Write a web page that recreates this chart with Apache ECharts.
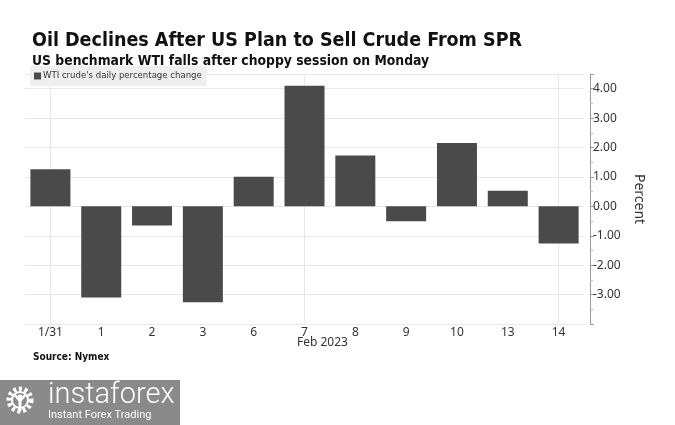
<!DOCTYPE html>
<html>
<head>
<meta charset="utf-8">
<script src="https://cdn.jsdelivr.net/npm/echarts@6/dist/echarts.min.js"></script>
<style>html,body{margin:0;padding:0;background:#fff}#c{width:675px;height:425px}</style>
</head>
<body>
<div id="c"></div>
<script>
var categories = ['1/31', '1', '2', '3', '6', '7', '8', '9', '10', '13', '14'];
var wtiChange = [1.26, -3.10, -0.65, -3.26, 1.01, 4.10, 1.73, -0.51, 2.15, 0.53, -1.26];
var gridDates = ['1/31', '7', '14'];
var titleText = 'Oil Declines After US Plan to Sell Crude From SPR';
var subtitleText = 'US benchmark WTI falls after choppy session on Monday';
var seriesName = "WTI crude's daily percentage change";

var chart = echarts.init(document.getElementById('c'), null, {renderer: 'canvas'});
chart.setOption({
  animation: false,
  backgroundColor: '#ffffff',
  title: [
    {text: titleText, left: 27, top: 26,
     textStyle: {fontFamily: 'DejaVu Sans Condensed', fontWeight: 'bold', fontSize: 19.5, color: '#111'}},
    {text: subtitleText, left: 27, top: 49,
     textStyle: {fontFamily: 'DejaVu Sans Condensed', fontWeight: 'bold', fontSize: 13.8, color: '#111'}}
  ],
  legend: {
    left: 30, top: 66, padding: [5, 5, 5, 4], backgroundColor: '#efefef',
    icon: 'rect', itemWidth: 7, itemHeight: 7, itemGap: 4,
    textStyle: {fontFamily: 'DejaVu Sans Condensed', fontSize: 9.5, color: '#333', padding: [0, 0, 0, -3]},
    data: [seriesName]
  },
  grid: {left: 25, right: 91, top: 74, bottom: 101},
  xAxis: {
    type: 'category', data: categories,
    axisLine: {show: false}, axisTick: {show: false},
    axisLabel: {fontFamily: 'Noto Sans', fontSize: 12, color: '#333', margin: 3},
    splitLine: {show: false}
  },
  yAxis: {
    type: 'value', position: 'right', offset: 6,
    min: -4, max: 4.5, interval: 1,
    name: 'Percent', nameLocation: 'middle', nameRotate: -90, nameGap: 38,
    nameTextStyle: {fontFamily: 'Noto Sans', fontSize: 14, color: '#333'},
    axisLine: {show: true, lineStyle: {color: '#999', width: 1}},
    axisTick: {show: true, inside: false, length: 4, lineStyle: {color: '#999'}},
    minorTick: {show: true, splitNumber: 2, length: 3, lineStyle: {color: '#bbb'}},
    axisLabel: {fontFamily: 'Noto Sans', fontSize: 12, color: '#333', margin: 3,
      showMinLabel: false, showMaxLabel: false,
      formatter: function (v) { return v.toFixed(2); }},
    splitLine: {show: true, lineStyle: {color: '#e8e8e8', width: 1}}
  },
  series: [{
    name: seriesName, type: 'bar', data: wtiChange, barWidth: 40,
    itemStyle: {color: '#4a4a4a'},
    markLine: {
      silent: true, symbol: 'none', z: 1,
      label: {show: false},
      lineStyle: {color: '#e8e8e8', type: 'solid', width: 1},
      data: gridDates.map(function (d) { return {xAxis: d}; })
    }
  }],
  graphic: [
    {type: 'text', left: 297, top: 337,
     style: {text: 'Feb 2023', font: '12px "Noto Sans"', fill: '#333'}},
    {type: 'text', left: 33, top: 352,
     style: {text: 'Source: Nymex', font: 'bold 10px "DejaVu Sans Condensed"', fill: '#111'}},
    {type: 'rect', shape: {x: 0, y: 380, width: 180, height: 45}, style: {fill: '#8a8a8a'}},
    {type: 'circle', shape: {cx: 20, cy: 400, r: 11}, style: {fill: 'none', stroke: '#fff', lineWidth: 5, lineDash: [3, 2.6]}},
    {type: 'circle', shape: {cx: 20, cy: 400, r: 8}, style: {fill: '#8a8a8a', stroke: '#fff', lineWidth: 2}},
    {type: 'circle', shape: {cx: 20, cy: 397, r: 2.5}, style: {fill: '#fff'}},
    {type: 'polyline', shape: {points: [[14, 394], [20, 401], [26, 394]]}, style: {stroke: '#fff', lineWidth: 2.5, fill: 'none'}},
    {type: 'rect', shape: {x: 18.5, y: 400, width: 3, height: 11}, style: {fill: '#fff'}},
    {type: 'text', left: 48, top: 381,
     style: {text: 'instaforex', font: '300 29px Roboto', fill: '#fff'}},
    {type: 'text', left: 48, top: 410,
     style: {text: 'Instant Forex Trading', font: '11px Roboto', fill: '#fff'}}
  ]
});
</script>
</body>
</html>
